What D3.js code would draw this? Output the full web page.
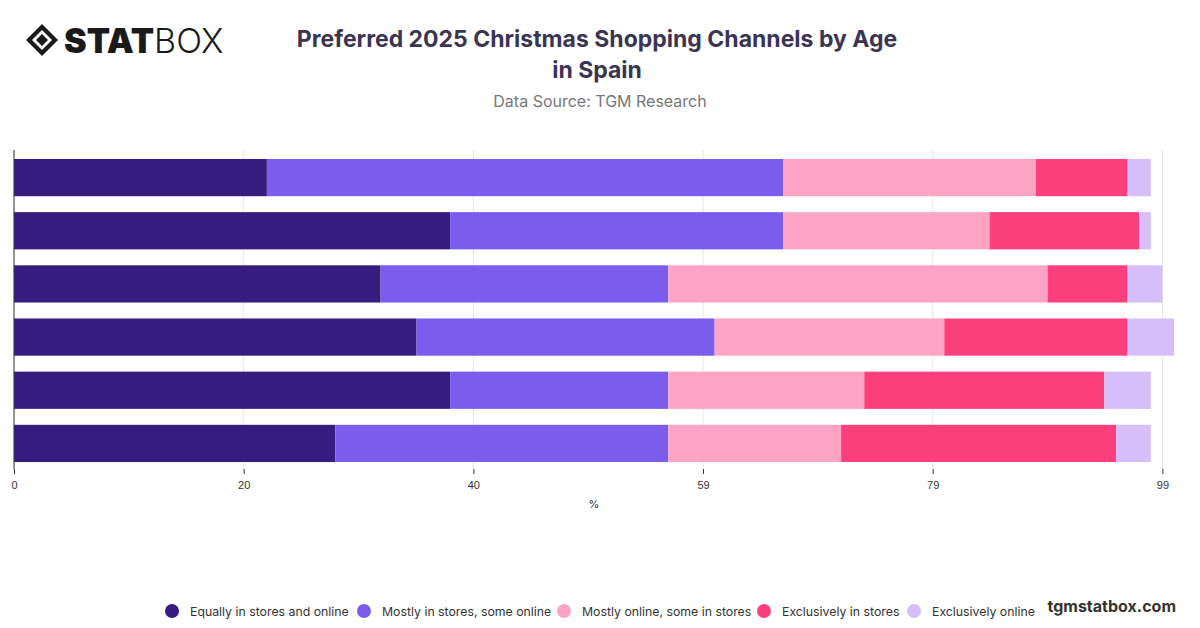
<!DOCTYPE html>
<html><head><meta charset="utf-8">
<script src="https://cdn.jsdelivr.net/npm/d3@7"></script>
<style>body{margin:0;background:#fff;font-family:Inter,"Noto Sans",sans-serif}</style>
</head><body>
<svg id="chart" width="1200" height="628"></svg>
<script>
const ageGroups = ["18-24", "25-34", "35-44", "45-54", "55-64", "65+"];
const seriesNames = ["Equally in stores and online", "Mostly in stores, some online", "Mostly online, some in stores", "Exclusively in stores", "Exclusively online"];
const colors = ["#371c80", "#7b5ced", "#fda4c4", "#fd3f7e", "#d5bef9"];
const equally = [21.8, 37.6, 31.6, 34.7, 37.6, 27.7];
const mostlyStores = [44.5, 28.7, 24.8, 25.7, 18.8, 28.7];
const mostlyOnline = [21.8, 17.8, 32.7, 19.8, 16.9, 14.9];
const exclStores = [7.9, 12.9, 6.9, 15.8, 20.7, 23.7];
const exclOnline = [2.0, 1.0, 3.0, 4.0, 4.0, 3.0];
const tickValues = [0, 19.8, 39.6, 59.4, 79.2, 99];

const svg = d3.select("#chart");
const values = [equally, mostlyStores, mostlyOnline, exclStores, exclOnline];
const rows = ageGroups.map((g, i) => {
  const r = { group: g };
  seriesNames.forEach((s, j) => r[s] = values[j][i]);
  return r;
});
const stacked = d3.stack().keys(seriesNames)(rows);

const x = d3.scaleLinear().domain([0, 100]).range([14, 1174]);
const y = d3.scaleBand().domain(ageGroups).range([151, 470]).paddingInner(0.3).paddingOuter(0.15);

// logo
const logo = svg.append("g").attr("transform", "translate(26,24)");
logo.append("path").attr("d", "M16,0 L32,16 L16,32 L0,16 Z").attr("fill", "#1a1a1a");
logo.append("path").attr("d", "M16,6 L26,16 L16,26 L6,16 Z").attr("fill", "#fff");
logo.append("path").attr("d", "M16,10 L22,16 L16,22 L10,16 Z").attr("fill", "#1a1a1a");
logo.append("text").attr("x", 38).attr("y", 29).attr("font-size", 34).attr("font-weight", 900)
  .attr("fill", "#1a1a1a").attr("font-family", "Inter").text("STAT")
  .append("tspan").attr("font-weight", 300).text("BOX");

svg.append("text").attr("x", 597).attr("y", 47).attr("text-anchor", "middle")
  .attr("font-size", 23).attr("font-weight", 700).attr("fill", "#3b3452").text("Preferred 2025 Christmas Shopping Channels by Age");
svg.append("text").attr("x", 597).attr("y", 78).attr("text-anchor", "middle")
  .attr("font-size", 23).attr("font-weight", 700).attr("fill", "#3b3452").text("in Spain");
svg.append("text").attr("x", 600).attr("y", 107).attr("text-anchor", "middle")
  .attr("font-size", 16).attr("fill", "#777").text("Data Source: TGM Research");

// grid
svg.append("g").selectAll("line").data(tickValues).join("line")
  .attr("x1", d => x(d)).attr("x2", d => x(d)).attr("y1", 150).attr("y2", 469)
  .attr("stroke", "#e6e6e6");

svg.append("g").selectAll("g").data(stacked).join("g")
  .attr("fill", (d, i) => colors[i])
  .selectAll("rect").data(d => d).join("rect")
  .attr("x", d => x(d[0])).attr("width", d => x(d[1]) - x(d[0]))
  .attr("y", d => y(d.data.group)).attr("height", y.bandwidth());

svg.append("line").attr("x1", 14).attr("x2", 14).attr("y1", 150).attr("y2", 469).attr("stroke", "#333");

const xAxis = svg.append("g").attr("transform", "translate(0,469)")
  .call(d3.axisBottom(x).tickValues(tickValues).tickFormat(d => Math.round(d)).tickSize(5));
xAxis.select(".domain").remove();
xAxis.selectAll("line").attr("stroke", "#333");
xAxis.selectAll("text").attr("font-size", 11).attr("fill", "#333").attr("dy", "1.1em");
svg.append("text").attr("x", 594).attr("y", 508).attr("text-anchor", "middle").attr("font-size", 11).attr("fill", "#333").text("%");

// legend
const legendX = [172, 364, 564, 764, 914];
const legend = svg.append("g").selectAll("g").data(seriesNames).join("g")
  .attr("transform", (d, i) => `translate(${legendX[i]},611)`);
legend.append("circle").attr("r", 7).attr("fill", (d, i) => colors[i]);
legend.append("text").attr("x", 18).attr("y", 4.5).attr("font-size", 12.3).attr("fill", "#333").text(d => d);

svg.append("text").attr("x", 1176).attr("y", 612).attr("text-anchor", "end")
  .attr("font-size", 16).attr("font-weight", 700).attr("fill", "#333").text("tgmstatbox.com");
</script>
</body></html>
